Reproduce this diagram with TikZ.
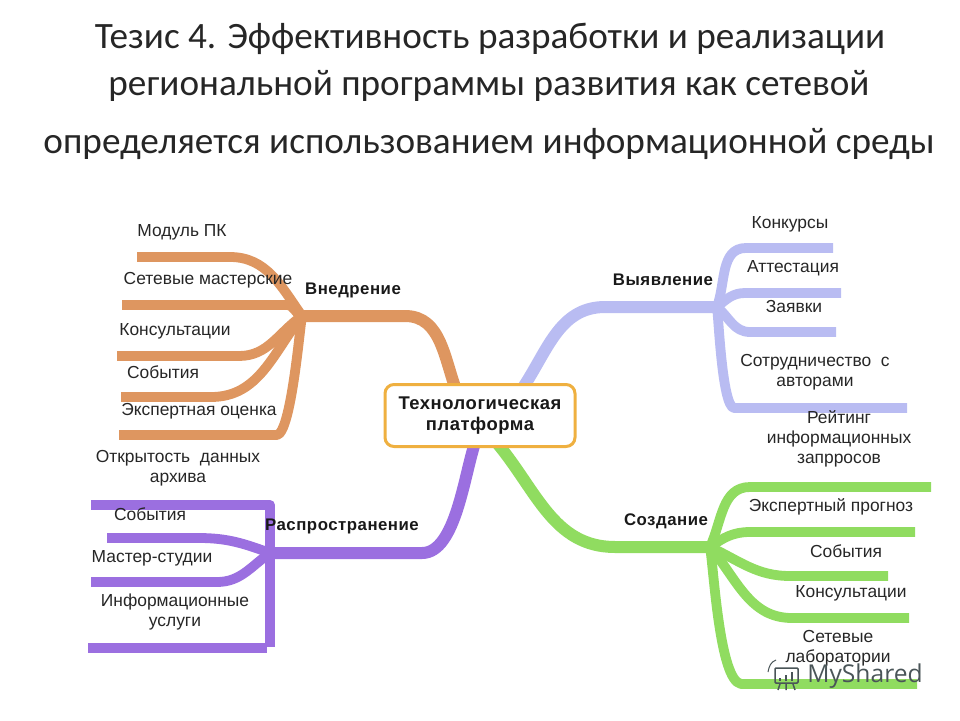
\documentclass[tikz,border=0pt]{standalone}
\usepackage{fontspec}
\setmainfont{Liberation Sans}
\newfontfamily\titlefont{Carlito}
\newfontfamily\markfont{Open Sans}
\newfontfamily\headfont[LetterSpace=3,BoldFont={Liberation Sans Bold}]{Liberation Sans}
\usetikzlibrary{positioning,backgrounds}
\definecolor{brOrange}{HTML}{DE9660}
\definecolor{brPurple}{HTML}{9B6FE0}
\definecolor{brBlue}{HTML}{B9BCF2}
\definecolor{brGreen}{HTML}{90DC60}
\definecolor{frameCol}{HTML}{EFB040}
\definecolor{txtCol}{HTML}{262626}
\definecolor{markCol}{HTML}{4A5558}

\begin{document}
\begin{tikzpicture}[x=1pt,y=-1pt,
  title/.style={font=\titlefont\fontsize{37.2}{37.2}\selectfont, text=black!85, inner sep=0pt},
  item/.style={font=\fontsize{17.4}{20}\selectfont, text=txtCol, align=center, inner sep=0pt},
  head/.style={font=\headfont\bfseries\fontsize{16.8}{18}\selectfont, text=black!90, inner sep=0pt},
  branch/.style={line width=9.8pt, line join=round},
  main/.style={line width=12pt, line join=round, line cap=round},
]
\useasboundingbox (0,0) rectangle (960,720);

\node[rectangle, draw=frameCol, line width=3pt, fill=white, rounded corners=9pt,
      minimum width=190pt, minimum height=62pt, inner sep=0pt,
      font=\headfont\bfseries\fontsize{18.4}{21}\selectfont, text=black!90, align=center] (tech) at (480,415.5)
      {Технологическая\\платформа};

% anchor points of the branches
\coordinate (hubO) at (302,316);
\coordinate (hubP) at (270,553);
\coordinate (hubB) at (717,307);
\coordinate (hubG) at (710,547);
\coordinate (techO) at (458,395);
\coordinate (techP) at (476,440);
\coordinate (techB) at (520,392);
\coordinate (techG) at (497,443);
\coordinate (o1) at (137,257);
\coordinate (o2) at (122,305);
\coordinate (o3) at (117,356);
\coordinate (o4) at (121,397);
\coordinate (o5) at (119,435);
\coordinate (p1) at (91,505);
\coordinate (p2) at (107,538);
\coordinate (p3) at (91,582);
\coordinate (p4) at (88,648);
\coordinate (b1) at (833,248);
\coordinate (b2) at (841,293);
\coordinate (b3) at (836,332);
\coordinate (b4) at (907,408);
\coordinate (g1) at (931,487);
\coordinate (g2) at (915,532);
\coordinate (g3) at (888,576);
\coordinate (g4) at (909,618);
\coordinate (g5) at (917,684);

\begin{scope}[on background layer]
% orange
\draw[main, brOrange] (hubO) -- ++(103,0) to[out=0,in=112] (techO);
\draw[branch, brOrange] (o1) -- ++(93,0) to[out=0,in=125] (hubO);
\draw[branch, brOrange] (o2) -- ++(165,0) to[out=0,in=165] (hubO);
\draw[branch, brOrange] (o3) -- ++(122,0) to[out=0,in=215] (hubO);
\draw[branch, brOrange] (o4) -- ++(90,0) to[out=0,in=232] (hubO);
\draw[branch, brOrange] (o5) -- ++(158,0) to[out=10,in=260,looseness=.3] (hubO);
% purple
\draw[main, brPurple] (hubP) -- ++(152,0) to[out=0,in=250,looseness=.7] (techP);
\draw[branch, brPurple] (p1) -- ++(179,0) -- (hubP);
\draw[branch, brPurple] (p2) -- ++(92,0) to[out=0,in=160] (hubP);
\draw[branch, brPurple] (p3) -- ++(126,0) to[out=0,in=215] (hubP);
\draw[branch, brPurple] (p4) -- ++(179,0);
\draw[branch, brPurple] (hubP) -- (270,647);
% blue
\draw[main, brBlue] (hubB) -- ++(-112,0) to[out=180,in=55] (techB);
\draw[branch, brBlue] (b1) -- ++(-87,0) to[out=180,in=70] (hubB);
\draw[branch, brBlue] (b2) -- ++(-96,0) to[out=180,in=40] (hubB);
\draw[branch, brBlue] (b3) -- ++(-86,0) to[out=180,in=-40] (hubB);
\draw[branch, brBlue] (b4) -- ++(-173,0) to[out=170,in=-82,looseness=.3] (hubB);
% green
\draw[main, brGreen] (hubG) -- ++(-95,0) to[out=180,in=-50] (techG);
\draw[branch, brGreen] (g1) -- ++(-181,0) to[out=180,in=65] (hubG);
\draw[branch, brGreen] (g2) -- ++(-165,0) to[out=180,in=35] (hubG);
\draw[branch, brGreen] (g3) -- ++(-98,0) to[out=180,in=-25] (hubG);
\draw[branch, brGreen] (g4) -- ++(-117,0) to[out=180,in=-50] (hubG);
\draw[branch, brGreen] (g5) -- ++(-176,0) to[out=170,in=-80,looseness=.4] (hubG);
\end{scope}

% title
\node[title] (t1) at (490,39) {Тезис 4. Эффективность разработки и реализации};
\node[title] (t2) at (489,86) {региональной программы развития как сетевой};
\node[title] (t3) at (489,144) {определяется использованием информационной среды};

% headings
\node[head] (vnedr) at (353,290) {Внедрение};
\node[head] (rasp) at (342,526) {Распространение};
\node[head] (vyyav) at (663,280) {Выявление};
\node[head] (sozd) at (666,521) {Создание};

% left side
\node[item] (l1) at (182,232) {Модуль ПК};
\node[item] (l2) at (208,280) {Сетевые мастерские};
\node[item] (l3) at (175,331) {Консультации};
\node[item] (l4) at (163,372) {События};
\node[item] (l5) at (199,411) {Экспертная оценка};
\node[item] (l6) at (178,468) {Открытость\ \ данных\\архива};
\node[item] (l7) at (150,514) {События};
\node[item] (l8) at (152,558) {Мастер-студии};
\node[item] (l9) at (175,612) {Информационные\\услуги};

% right side
\node[item] (r1) at (790,224) {Конкурсы};
\node[item] (r2) at (793,268) {Аттестация};
\node[item] (r3) at (794,307) {Заявки};
\node[item] (r4) at (815,372) {Сотрудничество\ \ с\\авторами};
\node[item] (r5) at (839,439) {Рейтинг\\информационных\\запрросов};
\node[item] (r6) at (831,507) {Экспертный прогноз};
\node[item] (r7) at (846,551) {События};
\node[item] (r8) at (851,593) {Консультации};
\node[item] (r9) at (838,648) {Сетевые\\лаборатории};

% watermark
\node[font=\markfont\fontsize{24.6}{25}\selectfont, text=markCol, inner sep=0pt] (mark) at (865,676) {MyShared};
\draw[markCol, line width=1.5pt, rounded corners=1pt] (775,668) rectangle (798,683);
\draw[markCol, line width=1pt] (768,672) to[out=80,in=200] (776,660);
\draw[markCol, line width=2pt] (780,681) -- (780,678) (786,681) -- (786,675) (792,681) -- (792,672);
\draw[markCol, line width=1.5pt] (780,684) -- (778,690) (786,684) -- (786,690) (793,684) -- (795,690);
\end{tikzpicture}
\end{document}
